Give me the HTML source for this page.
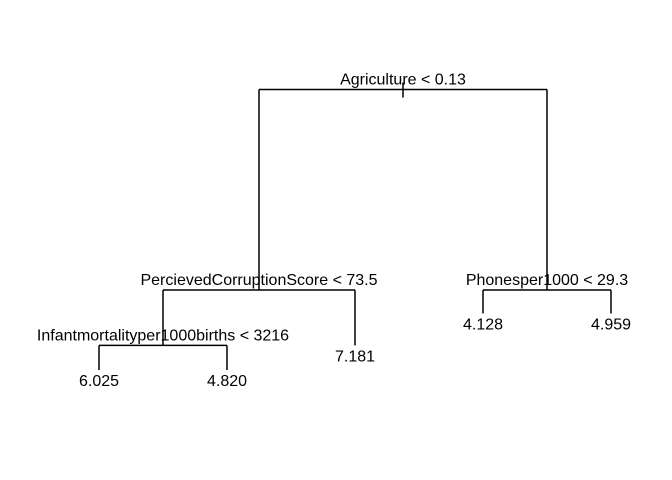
<!DOCTYPE html>
<html><head><meta charset="utf-8"><style>
html,body{margin:0;padding:0;background:#fff;}
svg{display:block;font-family:"Liberation Sans",Arial,sans-serif;}
</style></head><body>
<svg id="chart" width="672" height="480">
<g id="g" stroke="#000" stroke-width="1.5" fill="none"></g>
<g id="t" font-size="16" fill="#000" text-anchor="middle"></g>
</svg>
<script>
// Leaves (left to right) and their predicted values
const leafLabels = ["6.025","4.820","7.181","4.128","4.959"];
// node heights (deviance scale, larger = higher in tree)
const leafHeight = [0, 0, 0.1, 0.23, 0.23];
// internal nodes: label, left child, right child, height
const splitLabels = ["Agriculture < 0.13","PercievedCorruptionScore < 73.5","Infantmortalityper1000births < 3216","Phonesper1000 < 29.3"];
const splitHeight = [1.14, 0.325, 0.1, 0.325];
const splitLeft = ["s1","s2","L0","L3"];
const splitRight = ["s3","L2","L1","L4"];

const xs = i => 99 + i * 128;
const ys = h => 370 - h * 246;
const g = document.getElementById('g'), t = document.getElementById('t');
const NS = "http://www.w3.org/2000/svg";
function pos(id){
  if(id[0]==='L'){const i=+id.slice(1);return {x:xs(i),y:ys(leafHeight[i])};}
  const i=+id.slice(1);const a=pos(splitLeft[i]),b=pos(splitRight[i]);
  return {x:(a.x+b.x)/2,y:ys(splitHeight[i]),lx:a.x,rx:b.x,ly:a.y,ry:b.y};
}
function line(x1,y1,x2,y2,name){
  const l=document.createElementNS(NS,'line');
  l.setAttribute('x1',x1);l.setAttribute('y1',y1);l.setAttribute('x2',x2);l.setAttribute('y2',y2);
  
  
  g.appendChild(l);
}
function text(x,y,s,name){
  const e=document.createElementNS(NS,'text');
  e.setAttribute('x',x);e.setAttribute('y',y);e.textContent=s;
  
  
  t.appendChild(e);
}
splitLabels.forEach((lab,i)=>{
  const p=pos('s'+i);
  line(p.lx,p.y,p.rx,p.y,'split-branch-'+i);
  line(p.lx,p.y,p.lx,p.ly,'left-branch-'+i);
  line(p.rx,p.y,p.rx,p.ry,'right-branch-'+i);
  text(p.x,p.y-5,lab,'split-label-'+i);
});
const r=pos('s0');
line(r.x,r.y-7,r.x,r.y+8,'root-tick');
leafLabels.forEach((lab,i)=>{
  const p=pos('L'+i);
  text(p.x,p.y+16,lab,'leaf-value-'+i);
});
</script>
</body></html>
